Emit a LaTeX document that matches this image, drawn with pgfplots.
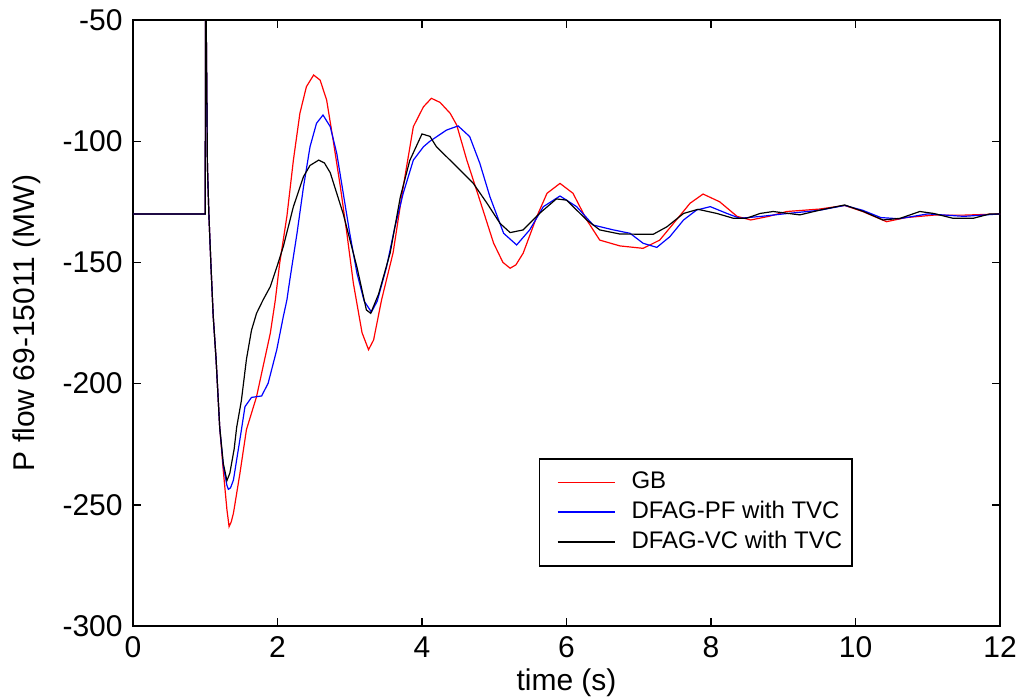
\documentclass[border=0pt]{standalone}
\usepackage{pgfplots}
\pgfplotsset{compat=1.18}
\usepackage{fontspec}
\setmainfont{Liberation Sans}
\begin{document}
\fontsize{15}{18}\selectfont
\begin{tikzpicture}
\useasboundingbox (-66.5pt,-35.5pt) rectangle (443.5pt,313pt);
\begin{axis}[
  at={(0,0)}, anchor=south west,
  scale only axis, width=433.5pt, height=303pt,
  xmin=0, xmax=12, ymin=-300, ymax=-50,
  xtick={0,2,...,12}, ytick={-300,-250,...,-50},
  tick align=inside, major tick length=4pt,
  axis line style={line width=0.7pt},
  tick style={line width=0.7pt, black},
  /pgf/number format/assume math mode=true,
  ticklabel style={font=\fontsize{15}{18}\selectfont},
  xlabel={time (s)}, ylabel={P flow 69-15011 (MW)},
  label style={font=\fontsize{15}{18}\selectfont},
  xlabel style={at={(axis description cs:0.5,-0.094)}, anchor=center},
  ylabel style={at={(axis description cs:-0.123,0.5)}, anchor=center},
  legend cell align=left,
  legend style={at={(axis description cs:0.468,0.277)}, anchor=north west,
    draw=black, line width=0.8pt, font=\fontsize{12}{16}\selectfont,
    inner xsep=3pt, inner ysep=4.5pt, row sep=0pt},
  legend image code/.code={\path[draw=none] (0pt,0pt) -- (41pt,0pt); \draw[#1, line width=0.8pt] (6pt,0pt) -- (34.5pt,0pt);},
  every axis plot/.append style={line width=0.6pt},
  clip=true,
]
\addplot[red] coordinates {
(0,-130)(1.0,-130)(1.0,-130)(1.005,-20)(1.03,-110)(1.05,-130)(1.08,-152)(1.11,-172)(1.15,-190)(1.2,-218)(1.25,-236)
(1.30,-252)(1.33,-259)(1.36,-257)(1.39,-253.5)(1.48,-237)(1.57,-219)(1.71,-205.4)(1.80,-193)(1.90,-179.3)(1.97,-165.5)
(2.03,-150.4)(2.13,-131)(2.22,-107.8)(2.31,-88.5)(2.40,-77.5)(2.50,-72.7)(2.59,-74.8)(2.68,-83)(2.77,-99.5)(2.87,-118.8)
(2.96,-138)(3.05,-158.6)(3.17,-179)(3.26,-186)(3.33,-182)(3.44,-165.5)(3.60,-146)(3.74,-118.8)(3.88,-94)(4.02,-85.8)
(4.13,-82.3)(4.25,-84)(4.39,-88.5)(4.48,-93.3)(4.62,-107.8)(4.80,-124.3)(4.99,-142)(5.12,-150)(5.22,-152.4)(5.30,-151)
(5.40,-146.2)(5.59,-131)(5.73,-121.5)(5.91,-117.4)(6.09,-121.5)(6.28,-132.5)(6.46,-140.8)(6.74,-143.2)(7.06,-144.2)
(7.29,-140.8)(7.52,-132.5)(7.71,-125.6)(7.89,-121.8)(8.12,-125)(8.36,-131)(8.55,-132.5)(8.8,-131)(9.05,-129)(9.5,-128)
(9.85,-126.5)(10.1,-129)(10.43,-133.2)(10.7,-131.5)(11.08,-130.5)(11.5,-130.5)(12,-130)
};
\addlegendentry{GB}
\addplot[blue] coordinates {
(0,-130)(1.0,-130)(1.0,-130)(1.005,-20)(1.03,-110)(1.05,-130)(1.08,-152)(1.11,-172)(1.15,-190)(1.2,-218)(1.25,-234)
(1.30,-242)(1.32,-243.6)(1.35,-243)(1.39,-239.8)(1.48,-223)(1.55,-209.5)(1.64,-205.7)(1.78,-205.1)(1.87,-199.9)(1.99,-186)
(2.08,-172.4)(2.13,-165.5)(2.17,-157.3)(2.27,-138)(2.36,-118.8)(2.45,-102.3)(2.54,-92.6)(2.63,-89.2)(2.73,-94)(2.82,-105)
(2.91,-121.5)(3.00,-138)(3.10,-154.5)(3.20,-166)(3.30,-170.5)(3.38,-166)(3.51,-151.8)(3.62,-136)(3.74,-121.5)(3.88,-107.8)
(4.02,-102.3)(4.11,-100)(4.34,-95.4)(4.50,-93.7)(4.66,-98.1)(4.80,-109.1)(4.94,-122.9)(5.13,-138)(5.31,-142.8)(5.49,-136.6)
(5.68,-127)(5.91,-122.6)(6.14,-127)(6.37,-134.6)(6.65,-136.6)(6.88,-138)(7.06,-142.1)(7.25,-143.8)(7.43,-139.4)(7.62,-132.5)
(7.80,-128.4)(7.99,-127)(8.22,-129.8)(8.40,-131.8)(8.7,-131)(9.0,-130)(9.5,-128.5)(9.85,-126.5)(10.1,-128.5)(10.35,-131.5)
(10.6,-132)(11,-130)(11.5,-131)(12,-130)
};
\addlegendentry{DFAG-PF with TVC}
\addplot[black] coordinates {
(0,-130)(1.0,-130)(1.0,-130)(1.005,-20)(1.03,-110)(1.05,-130)(1.08,-152)(1.11,-172)(1.15,-190)(1.2,-218)(1.25,-233)
(1.30,-240)(1.34,-237)(1.40,-227)(1.435,-218)(1.50,-207)(1.57,-190)(1.64,-178)(1.71,-171)(1.80,-165.5)(1.90,-160)
(1.99,-152)(2.08,-143.5)(2.22,-127)(2.36,-114.6)(2.45,-110)(2.57,-107.8)(2.65,-109)(2.73,-113)(2.91,-130)(3.10,-152)
(3.23,-169.6)(3.29,-171)(3.40,-163)(3.56,-146)(3.70,-123)(3.83,-108)(4.0,-97)(4.11,-98)(4.20,-102.3)(4.48,-110.5)
(4.71,-117.4)(4.90,-125.6)(5.08,-133.9)(5.22,-137.7)(5.40,-136.6)(5.63,-129.7)(5.86,-123.8)(6.0,-124.3)(6.28,-132.5)
(6.46,-136.6)(6.74,-138.3)(7.20,-138.4)(7.39,-135.3)(7.62,-129.8)(7.82,-128.1)(8.08,-129.8)(8.31,-131.8)(8.49,-131.8)
(8.68,-129.8)(8.86,-129)(9.23,-130.4)(9.51,-128.4)(9.85,-126.3)(10.11,-129)(10.38,-132.5)(10.62,-131.8)(10.89,-129)
(11.08,-129.8)(11.35,-131.8)(11.63,-131.8)(11.86,-130)(12,-130)
};
\addlegendentry{DFAG-VC with TVC}
\end{axis}
\end{tikzpicture}
\end{document}
